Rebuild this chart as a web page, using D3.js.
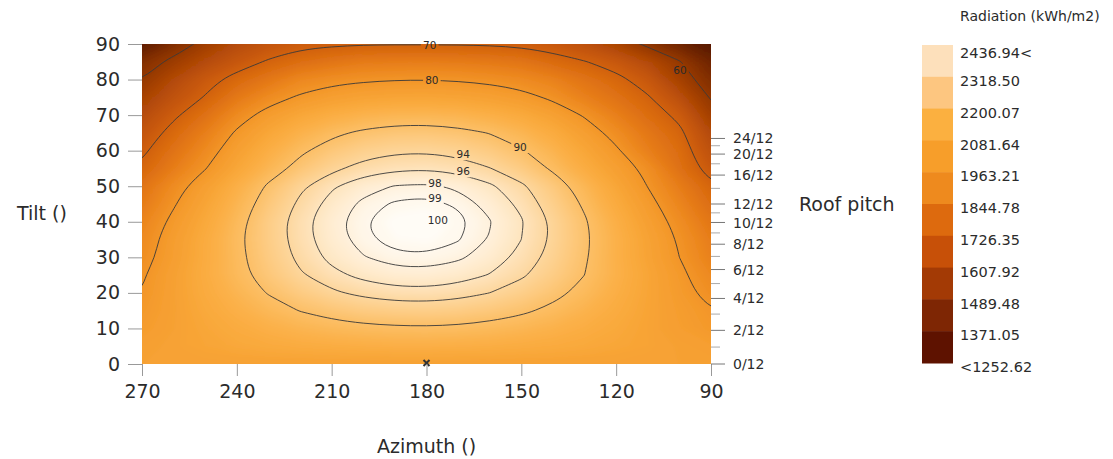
<!DOCTYPE html>
<html>
<head>
<meta charset="utf-8">
<script src="https://cdn.jsdelivr.net/npm/d3@7"></script>
<style>
  body { margin: 0; background: #fff; }
  text { font-family: "DejaVu Sans", Verdana, sans-serif; fill: #2b2b2b; }
</style>
</head>
<body>
<svg id="chart" width="1113" height="459"></svg>
<script>
const azimuths = [90, 100, 110, 120, 130, 140, 150, 160, 170, 180, 190, 200, 210, 220, 230, 240, 250, 260, 270];
const tilts = [0, 5, 10, 15, 20, 25, 30, 35, 40, 45, 50, 55, 60, 65, 70, 75, 80, 85, 90];

// % of the best orientation, one row per tilt, columns follow azimuths
const radiationPct = [
  [83.0, 83.0, 83.0, 83.0, 83.0, 83.0, 83.0, 83.0, 83.0, 83.0, 83.0, 83.0, 83.0, 83.0, 83.0, 83.0, 83.0, 83.0, 83.0],
  [82.2, 82.9, 83.6, 84.3, 84.9, 85.5, 85.9, 86.3, 86.5, 86.6, 86.6, 86.4, 86.1, 85.8, 85.3, 84.7, 84.0, 83.3, 82.6],
  [80.7, 82.1, 83.6, 85.0, 86.2, 87.3, 88.2, 88.9, 89.4, 89.6, 89.5, 89.2, 88.7, 87.9, 86.9, 85.7, 84.4, 83.0, 81.5],
  [80.2, 81.8, 83.8, 85.8, 87.6, 89.2, 90.6, 91.6, 92.3, 92.6, 92.5, 92.1, 91.2, 90.1, 88.6, 86.9, 85.0, 82.9, 80.8],
  [78.8, 81.3, 84.0, 86.6, 89.0, 91.0, 92.7, 94.0, 94.9, 95.3, 95.2, 94.6, 93.6, 92.1, 90.2, 88.0, 85.6, 82.9, 80.1],
  [77.6, 80.9, 84.1, 87.2, 90.0, 92.4, 94.4, 95.9, 96.9, 97.4, 97.3, 96.6, 95.4, 93.7, 91.5, 88.9, 86.0, 82.8, 79.6],
  [76.2, 80.0, 83.6, 87.1, 90.4, 93.2, 95.4, 97.2, 98.3, 98.8, 98.7, 97.9, 96.6, 94.6, 92.1, 89.1, 85.8, 82.2, 78.5],
  [75.5, 79.5, 83.4, 87.2, 90.6, 93.6, 96.0, 97.9, 99.1, 99.7, 99.5, 98.7, 97.2, 95.1, 92.4, 89.3, 85.7, 81.9, 77.9],
  [74.2, 78.5, 82.6, 86.7, 90.4, 93.6, 96.2, 98.1, 99.4, 99.9, 99.8, 98.9, 97.4, 95.2, 92.4, 88.9, 85.0, 81.0, 76.8],
  [72.6, 77.0, 81.4, 85.6, 89.5, 92.8, 95.5, 97.5, 98.8, 99.4, 99.2, 98.4, 96.8, 94.5, 91.6, 88.0, 83.9, 79.6, 75.2],
  [70.9, 75.5, 79.9, 84.3, 88.4, 91.8, 94.5, 96.4, 97.7, 98.3, 98.1, 97.3, 95.7, 93.5, 90.5, 86.8, 82.5, 78.2, 73.7],
  [68.2, 73.2, 78.8, 82.5, 86.1, 89.5, 92.2, 94.1, 95.3, 95.8, 95.6, 94.9, 93.4, 91.2, 88.2, 84.4, 79.8, 75.5, 71.0],
  [66.3, 72.3, 76.0, 80.6, 84.3, 87.8, 90.3, 92.1, 93.2, 93.7, 93.6, 92.9, 91.5, 89.4, 86.5, 82.6, 77.9, 73.6, 69.1],
  [64.6, 71.0, 74.5, 78.5, 82.3, 85.7, 88.2, 89.9, 90.9, 91.4, 91.3, 90.6, 89.3, 87.3, 84.4, 80.6, 75.9, 71.6, 67.2],
  [62.0, 68.9, 72.4, 76.0, 79.6, 82.9, 85.3, 86.8, 87.8, 88.2, 88.1, 87.5, 86.3, 84.4, 81.7, 78.0, 73.3, 69.2, 65.0],
  [59.6, 65.8, 70.4, 73.5, 76.2, 79.2, 81.4, 82.8, 83.6, 84.0, 83.9, 83.4, 82.3, 80.6, 78.1, 74.7, 70.3, 66.6, 62.7],
  [57.2, 62.6, 68.0, 71.2, 73.8, 76.4, 78.0, 79.0, 79.6, 79.9, 79.8, 79.4, 78.7, 77.4, 74.5, 71.6, 68.3, 64.5, 60.0],
  [54.5, 60.4, 64.7, 68.1, 70.2, 72.0, 74.0, 74.8, 75.3, 75.5, 75.4, 75.2, 74.0, 72.6, 70.5, 67.8, 64.8, 61.3, 57.5],
  [49.0, 54.5, 59.0, 63.1, 66.0, 67.9, 69.0, 69.5, 69.7, 69.75, 69.75, 69.65, 69.3, 68.7, 67.2, 64.9, 61.6, 57.0, 51.2]
];

const contourLevels = [60, 70, 80, 90, 94, 96, 98, 99];
const contourLabels = [
  {text: "70", az: 179, tilt: 89.6},
  {text: "80", az: 178.3, tilt: 79.7},
  {text: "60", az: 99.8, tilt: 82.7},
  {text: "90", az: 150.4, tilt: 61.0},
  {text: "94", az: 168.4, tilt: 59.0},
  {text: "96", az: 168.4, tilt: 54.2},
  {text: "98", az: 177.3, tilt: 50.9},
  {text: "99", az: 177.3, tilt: 46.7},
  {text: "100", az: 176.4, tilt: 40.5}
];

// colour ramp of the map, keyed by % of maximum
const rampPct = [47, 50, 54, 57, 60, 63, 66, 69, 72, 75, 78, 81, 84, 87, 90, 92, 94, 96, 98, 99, 100];
const rampColors = ["#4e1601", "#5a1a02", "#6c2403", "#7f2d04", "#943805", "#a94306", "#bc5008", "#cc5c0b",
  "#da6b10", "#e57a17", "#ee8b21", "#f49a2c", "#f8a536", "#fbb047", "#fcbf66", "#fdca80", "#fdd69d",
  "#fee4bd", "#fff1dc", "#fff7ec", "#fffdf9"];

const xTicks = [270, 240, 210, 180, 150, 120, 90];
const yTicks = [0, 10, 20, 30, 40, 50, 60, 70, 80, 90];
const pitchMajor = [0, 2, 4, 6, 8, 10, 12, 16, 20, 24];
const pitchMinor = [1, 3, 5, 7, 9, 11, 14, 18, 22];

const legendLabels = ["2436.94<", "2318.50", "2200.07", "2081.64", "1963.21", "1844.78",
  "1726.35", "1607.92", "1489.48", "1371.05", "<1252.62"];
const legendColors = ["#fde0bb", "#fdc680", "#fbb040", "#f79e2a", "#ee8a1e", "#dd6a0e",
  "#c75008", "#a33a05", "#7e2604", "#5e1200"];

const marker = {az: 180, tilt: 0};

const plot = {left: 142, right: 711, top: 44, bottom: 364};

const svg = d3.select("#chart");
const defs = svg.append("defs");

const x = d3.scaleLinear().domain([270, 90]).range([plot.left, plot.right]);
const y = d3.scaleLinear().domain([0, 90]).range([plot.bottom, plot.top]);
const color = d3.scaleLinear().domain(rampPct).range(rampColors).clamp(true);

const nx = azimuths.length, ny = tilts.length;
const values = radiationPct.flat();
// contour grid coords -> data coords (cell centres sit at i + 0.5)
const gAz = d3.scaleLinear().domain([0.5, nx - 0.5]).range([azimuths[0], azimuths[nx - 1]]);
const gTilt = d3.scaleLinear().domain([0.5, ny - 0.5]).range([tilts[0], tilts[ny - 1]]);

const proj = d3.geoTransform({
  point: function(px, py) { this.stream.point(x(gAz(px)), y(gTilt(py))); }
});
const path = d3.geoPath(proj);

defs.append("clipPath").attr("id", "plotClip")
  .append("rect")
  .attr("x", plot.left).attr("y", plot.top)
  .attr("width", plot.right - plot.left).attr("height", plot.bottom - plot.top);

defs.append("filter").attr("id", "soft")
  .append("feGaussianBlur").attr("stdDeviation", 3.5);

// heat map
const mapG = svg.append("g").attr("clip-path", "url(#plotClip)");
const bands = d3.contours().size([nx, ny]).thresholds(d3.range(44, 100, 0.5))(values);
mapG.append("g").attr("filter", "url(#soft)")
  .selectAll("path")
  .data(bands)
  .join("path")
  .attr("d", path)
  .attr("fill", d => color(d.value + 0.25));

// gaps in the lines where the labels sit
const mask = defs.append("mask").attr("id", "labelGap").attr("maskUnits", "userSpaceOnUse")
  .attr("x", 0).attr("y", 0).attr("width", 1113).attr("height", 459);
mask.append("rect").attr("width", 1113).attr("height", 459).attr("fill", "#fff");
mask.selectAll("rect.gap")
  .data(contourLabels)
  .join("rect")
  .attr("class", "gap")
  .attr("x", d => x(d.az) - d.text.length * 3.4 - 2)
  .attr("y", d => y(d.tilt) - 6)
  .attr("width", d => d.text.length * 6.8 + 4)
  .attr("height", 12)
  .attr("fill", "#000");

const line = d3.line().curve(d3.curveBasisClosed);
const lineG = mapG.append("g").attr("mask", "url(#labelGap)");
contourLevels.forEach(level => {
  const c = d3.contours().size([nx, ny]).thresholds([level])(values)[0];
  c.coordinates.forEach(poly => poly.forEach(ring => {
    const pts = ring.slice(0, -1).map(p => [x(gAz(p[0])), y(gTilt(p[1]))]);
    lineG.append("path")
      .attr("d", line(pts))
      .attr("fill", "none")
      .attr("stroke", "#3a3a3a")
      .attr("stroke-width", 0.9);
  }));
});

svg.append("g").selectAll("text")
  .data(contourLabels)
  .join("text")
  .attr("x", d => x(d.az))
  .attr("y", d => y(d.tilt))
  .attr("dy", "0.36em")
  .attr("text-anchor", "middle")
  .style("font-size", "10.5px")
  .text(d => d.text);

// marker at south / flat
svg.append("path")
  .attr("transform", `translate(${x(marker.az)},${y(marker.tilt) - 1})`)
  .attr("d", "M-3,-3L3,3M3,-3L-3,3")
  .attr("stroke", "#333")
  .attr("stroke-width", 2);

// axes
const yAxis = svg.append("g")
  .attr("transform", `translate(${plot.left},0)`)
  .call(d3.axisLeft(y).tickValues(yTicks).tickSize(14).tickPadding(8));
const xAxis = svg.append("g")
  .attr("transform", `translate(0,${plot.bottom})`)
  .call(d3.axisBottom(x).tickValues(xTicks).tickSize(12).tickPadding(9));
[xAxis, yAxis].forEach(ax => {
  ax.select(".domain").remove();
  ax.selectAll(".tick line").attr("stroke", "#999");
  ax.selectAll(".tick text").style("font-size", "19px").attr("fill", "#2b2b2b");
});

// roof pitch axis
const pitchTilt = p => Math.atan(p / 12) * 180 / Math.PI;
const pitchG = svg.append("g");
pitchG.selectAll("line.minor")
  .data(pitchMinor)
  .join("line")
  .attr("class", "minor")
  .attr("x1", plot.right).attr("x2", plot.right + 9)
  .attr("y1", d => y(pitchTilt(d))).attr("y2", d => y(pitchTilt(d)))
  .attr("stroke", "#aaa");
pitchG.selectAll("line.major")
  .data(pitchMajor)
  .join("line")
  .attr("class", "major")
  .attr("x1", plot.right).attr("x2", plot.right + 14)
  .attr("y1", d => y(pitchTilt(d))).attr("y2", d => y(pitchTilt(d)))
  .attr("stroke", "#777");
pitchG.selectAll("text")
  .data(pitchMajor)
  .join("text")
  .attr("x", plot.right + 22)
  .attr("y", d => y(pitchTilt(d)))
  .attr("dy", "0.36em")
  .style("font-size", "14px")
  .text(d => d + "/12");

// axis titles
svg.append("text").attr("x", 17).attr("y", 213).attr("dy", "0.36em")
  .style("font-size", "19px").text("Tilt ()");
svg.append("text").attr("x", (plot.left + plot.right) / 2).attr("y", 446).attr("dy", "0.36em")
  .attr("text-anchor", "middle").style("font-size", "19px").text("Azimuth ()");
svg.append("text").attr("x", 799).attr("y", 204).attr("dy", "0.36em")
  .style("font-size", "19px").text("Roof pitch");

// legend
const ly = d3.scaleLinear().domain([0, legendColors.length]).range([45, 363]);
const legend = svg.append("g");
legend.append("text").attr("x", 960).attr("y", 16).attr("dy", "0.36em")
  .style("font-size", "14px").text("Radiation (kWh/m2)");
legend.selectAll("rect")
  .data(legendColors)
  .join("rect")
  .attr("x", 922)
  .attr("y", (d, i) => ly(i))
  .attr("width", 31)
  .attr("height", ly(1) - ly(0) + 0.5)
  .attr("fill", d => d);
legend.selectAll("text.lbl")
  .data(legendLabels)
  .join("text")
  .attr("class", "lbl")
  .attr("x", 960)
  .attr("y", (d, i) => i === 0 ? ly(0) + 8 : ly(i) + 4)
  .attr("dy", "0.36em")
  .style("font-size", "14.5px")
  .text(d => d);
</script>
</body>
</html>
